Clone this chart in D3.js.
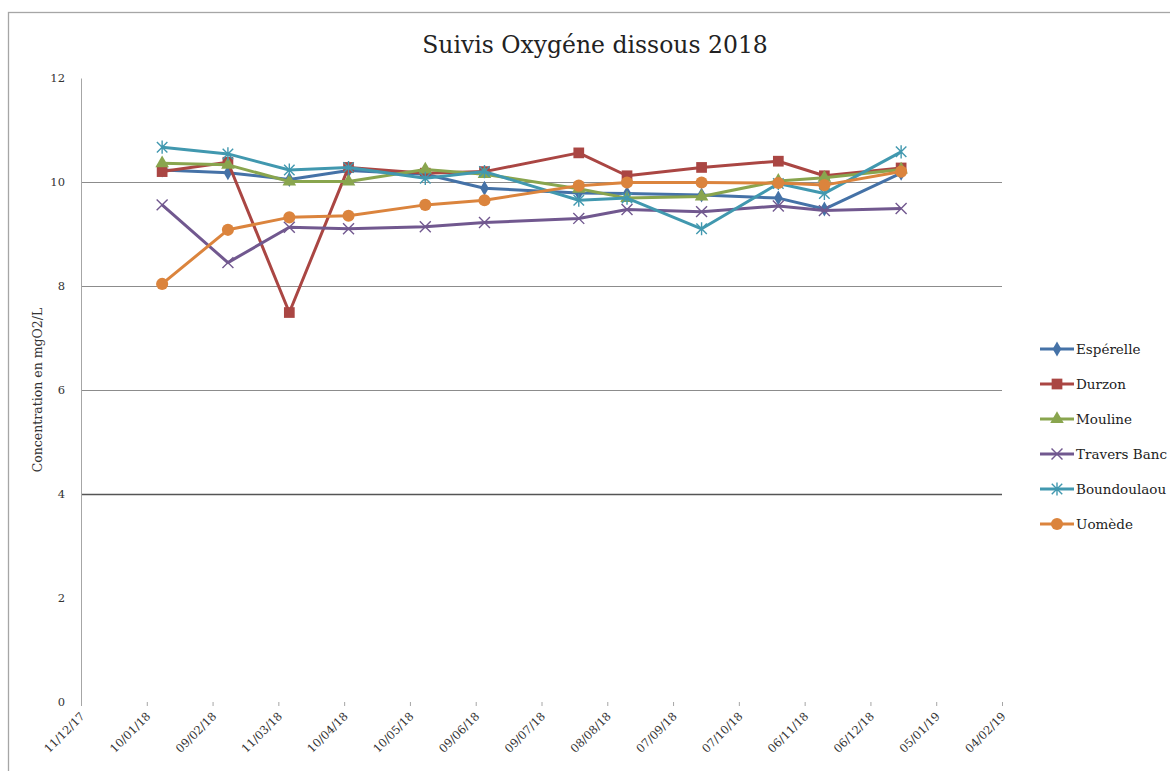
<!DOCTYPE html>
<html>
<head>
<meta charset="utf-8">
<script src="https://cdn.jsdelivr.net/npm/d3@7"></script>
<style>
  body { margin: 0; background: #fff; }
  svg { display: block; font-family: "DejaVu Serif", "Liberation Serif", serif; }
</style>
</head>
<body>
<svg id="chart" width="1170" height="771"></svg>
<script>
// sampling dates (dd/mm/yy)
var dates = ["17/01/18", "16/02/18", "16/03/18", "12/04/18", "17/05/18", "13/06/18",
             "26/07/18", "17/08/18", "20/09/18", "25/10/18", "15/11/18", "20/12/18"]

var esperelle    = [10.23, 10.18, 10.05, 10.22, 10.15, 9.88, 9.79, 9.78, 9.75, 9.69, 9.48, 10.17]
var durzon       = [10.20, 10.38, 7.49, 10.28, 10.17, 10.20, 10.56, 10.12, 10.28, 10.40, 10.12, 10.27]
var mouline      = [10.36, 10.33, 10.01, 10.01, 10.24, 10.15, 9.87, 9.69, 9.72, 10.02, 10.08, 10.24]
var traversBanc  = [9.56, 8.45, 9.13, 9.10, 9.14, 9.22, 9.30, 9.47, 9.43, 9.54, 9.45, 9.49]
var boundoulaou  = [10.67, 10.54, 10.23, 10.28, 10.07, 10.20, 9.65, 9.69, 9.10, 9.97, 9.78, 10.58]
var uomede       = [8.04, 9.08, 9.32, 9.35, 9.56, 9.65, 9.93, 9.99, 9.99, 9.98, 9.94, 10.20]

var seriesNames = ["Espérelle", "Durzon", "Mouline", "Travers Banc", "Boundoulaou", "Uomède"]

var xTickLabels = ["11/12/17", "10/01/18", "09/02/18", "11/03/18", "10/04/18", "10/05/18",
                   "09/06/18", "09/07/18", "08/08/18", "07/09/18", "07/10/18", "06/11/18",
                   "06/12/18", "05/01/19", "04/02/19"]
var yTicks = [0, 2, 4, 6, 8, 10, 12]
var yGrid = [4, 6, 8, 10]

var parseDate = d3.timeParse("%d/%m/%y")

// excel style marker shapes
var symbolX = {
    draw: function(ctx, size) {
        var r = Math.sqrt(size) / 2
        ctx.moveTo(-r, -r); ctx.lineTo(r, r)
        ctx.moveTo(-r, r); ctx.lineTo(r, -r)
    }
}
var symbolStar = {
    draw: function(ctx, size) {
        var r = Math.sqrt(size) / 2
        ctx.moveTo(-r, -r); ctx.lineTo(r, r)
        ctx.moveTo(-r, r); ctx.lineTo(r, -r)
        ctx.moveTo(0, -r * 1.25); ctx.lineTo(0, r * 1.25)
    }
}

var styles = [
    {color: "#4572A7", symbol: d3.symbolDiamond, size: 65, stroke: false},
    {color: "#AA4643", symbol: d3.symbolSquare, size: 115, stroke: false},
    {color: "#89A54E", symbol: d3.symbolTriangle, size: 80, stroke: false},
    {color: "#71588F", symbol: symbolX, size: 120, stroke: true},
    {color: "#4198AF", symbol: symbolStar, size: 110, stroke: true},
    {color: "#DB843D", symbol: d3.symbolCircle, size: 115, stroke: false}
]

var allSeries = [esperelle, durzon, mouline, traversBanc, boundoulaou, uomede]

var margin = {top: 78, left: 81}
var width = 921, height = 624

var svg = d3.select("#chart")

// outer chart border
svg.append("rect")
    .attr("x", 8.5).attr("y", 12.5)
    .attr("width", 1200).attr("height", 800)
    .attr("fill", "none").attr("stroke", "#a6a6a6").attr("stroke-width", 1.3)

svg.append("text")
    .attr("x", 595).attr("y", 53)
    .attr("text-anchor", "middle")
    .attr("font-size", "23.5px")
    .attr("fill", "#222")
    .text("Suivis Oxygéne dissous 2018")

var g = svg.append("g")
    .attr("transform", "translate(" + margin.left + "," + margin.top + ")")

var tickDates = xTickLabels.map(parseDate)
var xScale = d3.scaleTime()
    .domain([tickDates[0], tickDates[tickDates.length - 1]])
    .range([0, width])
var yScale = d3.scaleLinear().domain([0, 12]).range([height, 0])

// gridlines
g.selectAll(".grid")
    .data(yGrid)
    .enter().append("line")
    .attr("x1", 0).attr("x2", width)
    .attr("y1", function(d) { return Math.round(yScale(d)) + 0.5 })
    .attr("y2", function(d) { return Math.round(yScale(d)) + 0.5 })
    .attr("stroke", function(d) { return d == 4 ? "#555" : "#8c8c8c" })
    .attr("stroke-width", function(d) { return d == 4 ? 1.4 : 1 })

// y axis
var yAxis = g.append("g")
    .call(d3.axisLeft(yScale).tickValues(yTicks).tickSize(0).tickPadding(16))
yAxis.select(".domain").attr("stroke", "#a6a6a6").attr("stroke-width", 1)
yAxis.selectAll("text")
    .attr("font-family", "DejaVu Serif, serif")
    .attr("font-size", "11.5px")
    .attr("fill", "#333")

// x axis
var xAxis = g.append("g")
    .attr("transform", "translate(0," + height + ")")
    .call(d3.axisBottom(xScale).tickValues(tickDates).tickSize(4)
        .tickFormat(function(d, i) { return xTickLabels[i] }))
xAxis.select(".domain").remove()
xAxis.selectAll("line").attr("stroke", "#a6a6a6")
xAxis.selectAll("text")
    .attr("font-family", "DejaVu Serif, serif")
    .attr("font-size", "11.5px")
    .attr("fill", "#333")
    .attr("y", 0).attr("x", 0).attr("dy", 0)
    .attr("transform", "translate(4,15) rotate(-45)")
    .style("text-anchor", "end")

// y title
svg.append("text")
    .attr("transform", "translate(42," + (margin.top + height * 0.5) + ") rotate(-90)")
    .attr("text-anchor", "middle")
    .attr("font-size", "12.5px")
    .attr("fill", "#333")
    .text("Concentration en mgO2/L")

var pointDates = dates.map(parseDate)

var line = d3.line()
    .x(function(d, i) { return xScale(pointDates[i]) })
    .y(function(d) { return yScale(d) })

allSeries.forEach(function(values, s) {
    var st = styles[s]
    var sg = g.append("g")
    sg.append("path")
        .datum(values)
        .attr("d", line)
        .attr("fill", "none")
        .attr("stroke", st.color)
        .attr("stroke-width", 3)
        .attr("stroke-linejoin", "round")
    sg.selectAll("path.mk")
        .data(values)
        .enter().append("path")
        .attr("class", "mk")
        .attr("transform", function(d, i) {
            return "translate(" + xScale(pointDates[i]) + "," + yScale(d) + ")"
        })
        .attr("d", d3.symbol().type(st.symbol).size(st.size))
        .attr("fill", st.stroke ? "none" : st.color)
        .attr("stroke", st.stroke ? st.color : "none")
        .attr("stroke-width", 1.4)
})

// legend
var legend = svg.append("g").attr("transform", "translate(1040,349)")
seriesNames.forEach(function(name, i) {
    var st = styles[i]
    var lg = legend.append("g").attr("transform", "translate(0," + (i * 35) + ")")
    lg.append("line")
        .attr("x1", 0).attr("x2", 34).attr("y1", 0).attr("y2", 0)
        .attr("stroke", st.color).attr("stroke-width", 3)
    lg.append("path")
        .attr("transform", "translate(17,0)")
        .attr("d", d3.symbol().type(st.symbol).size(st.size))
        .attr("fill", st.stroke ? "none" : st.color)
        .attr("stroke", st.stroke ? st.color : "none")
        .attr("stroke-width", 1.4)
    lg.append("text")
        .attr("x", 36).attr("y", 0).attr("dy", "0.35em")
        .attr("font-size", "13.5px")
        .attr("fill", "#222")
        .text(name)
})
</script>
</body>
</html>
